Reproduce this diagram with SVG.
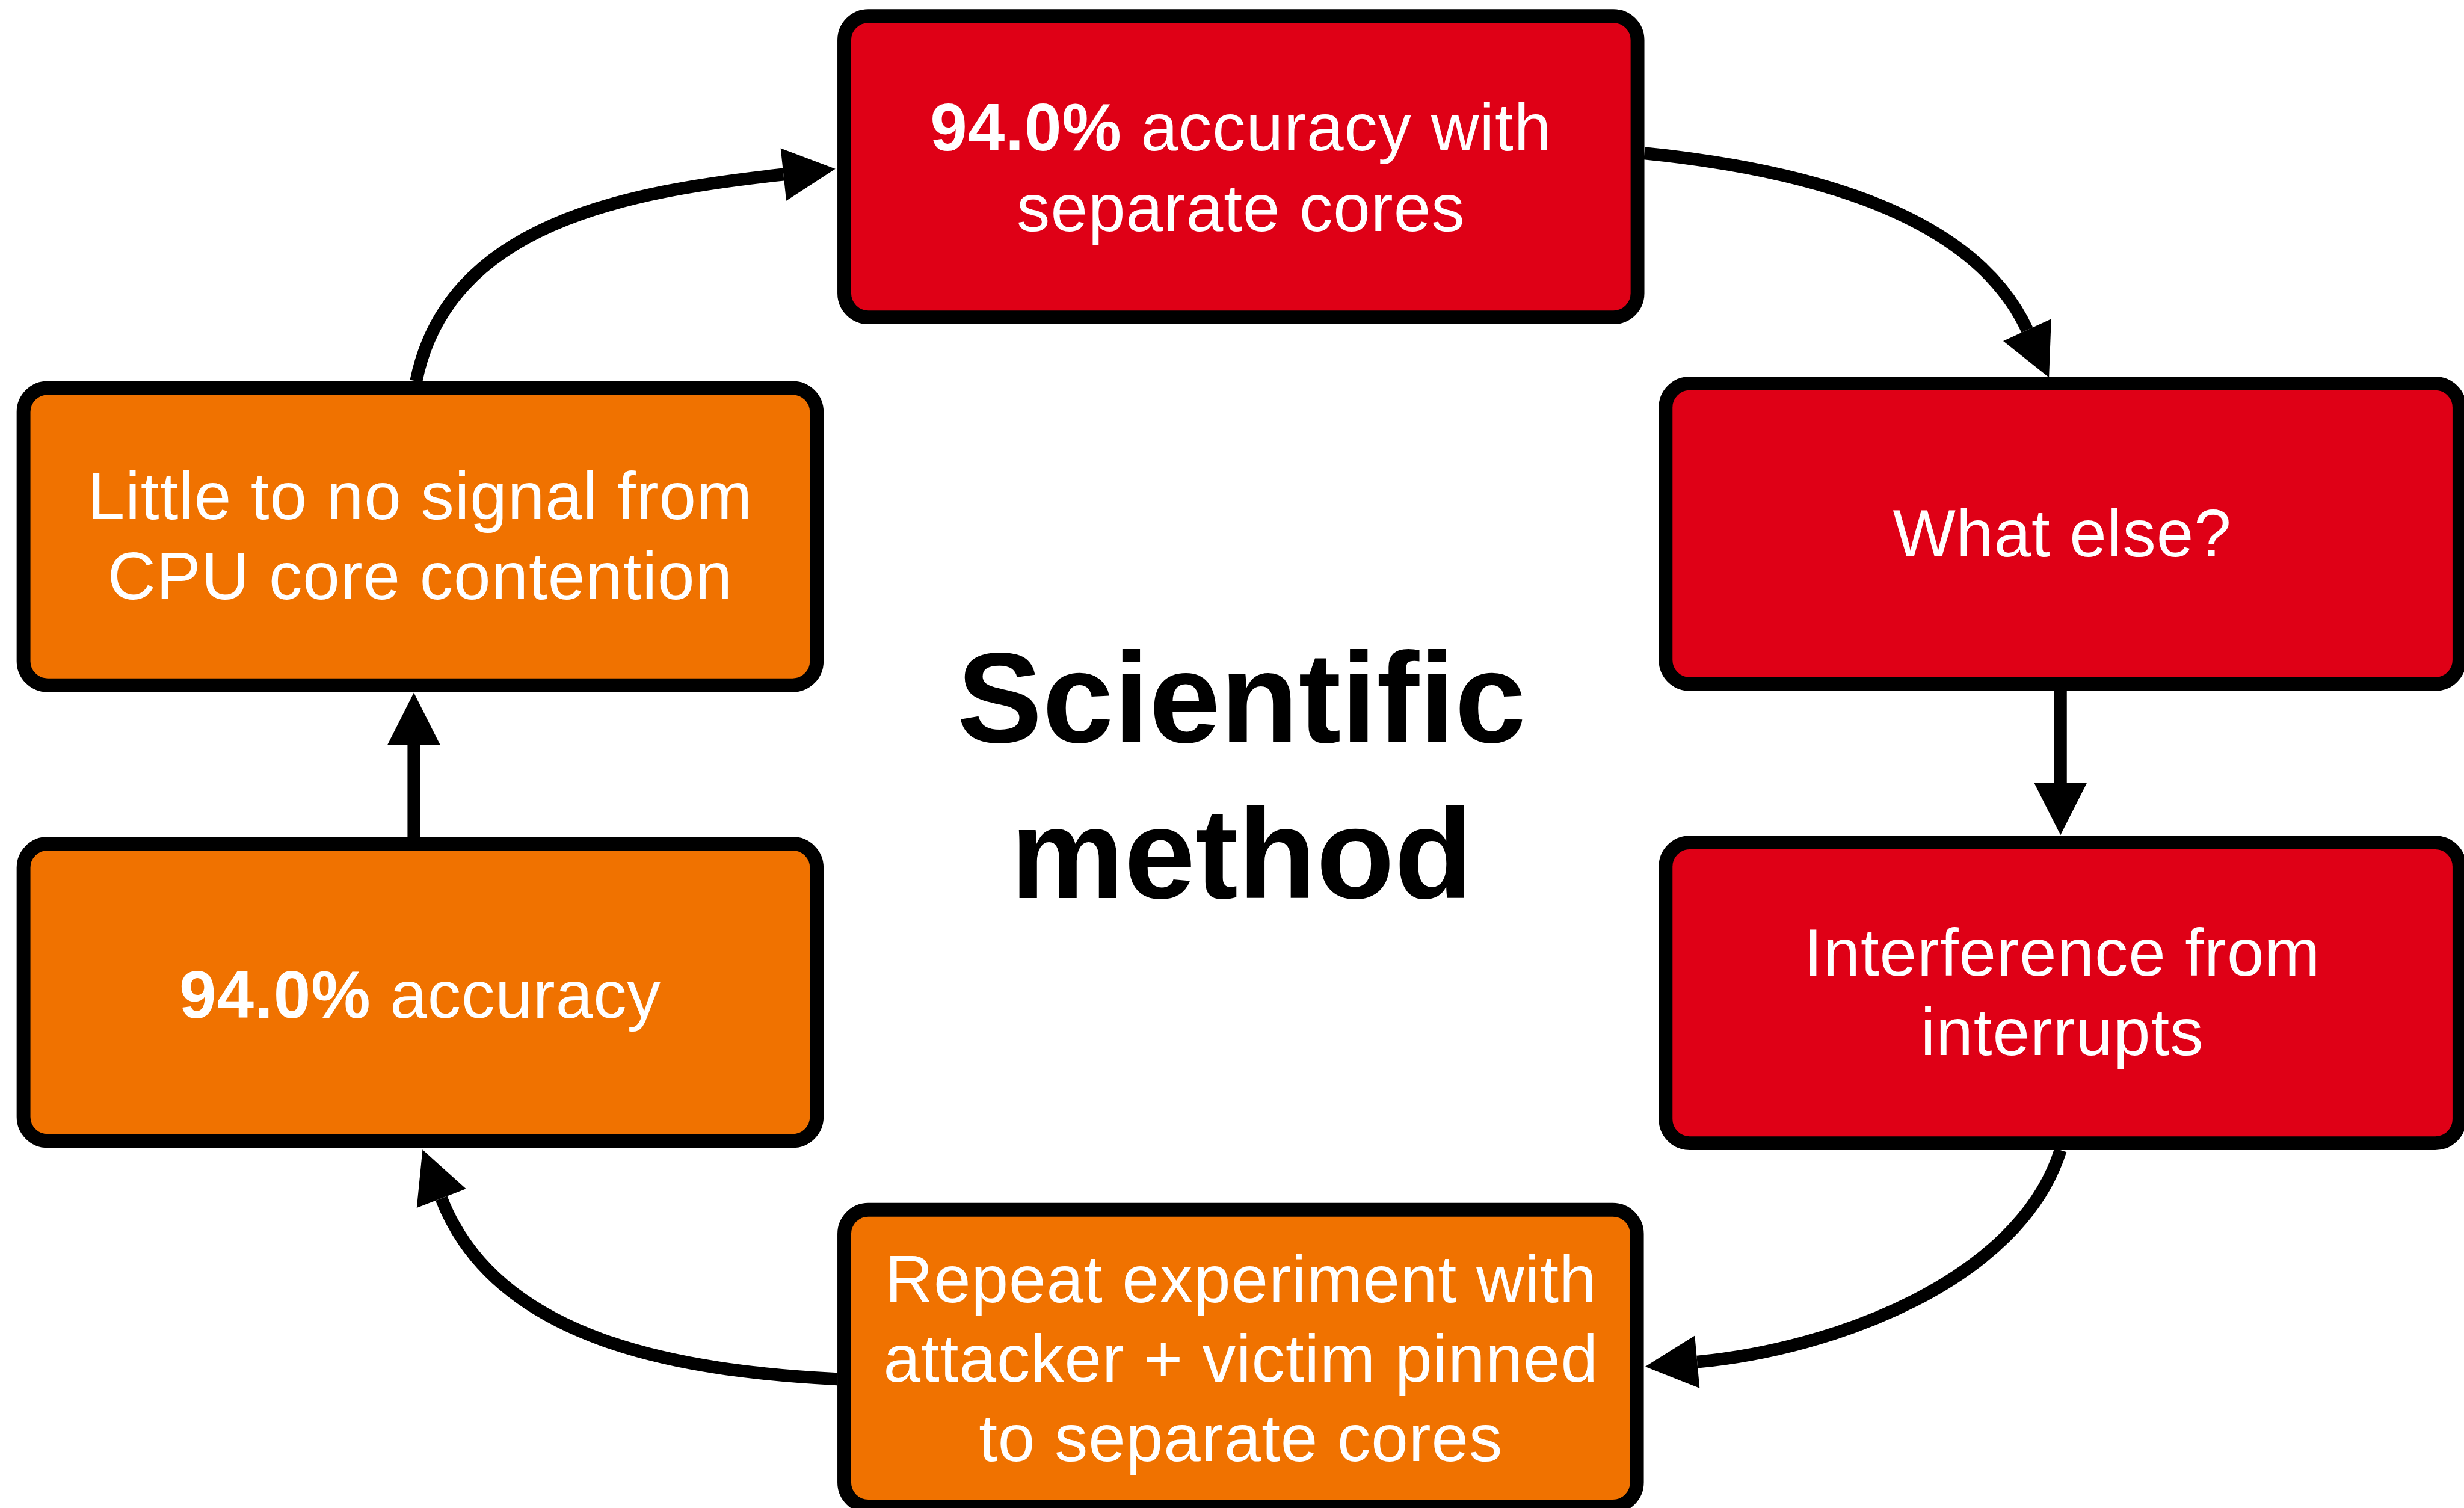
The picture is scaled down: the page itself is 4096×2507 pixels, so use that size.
<svg xmlns="http://www.w3.org/2000/svg" width="4096" height="2507" viewBox="0 0 4096 2507">
  <defs>
    <style>
      .box { stroke: #000; stroke-width: 24; }
      .red { fill: #DF0016; }
      .orange { fill: #F07200; }
      .label { fill: #fff; font-family: "Liberation Sans", Arial, Helvetica, sans-serif; font-size: 116px; letter-spacing: 1px; text-anchor: middle; }
      .label .b { font-weight: bold; }
      .title { fill: #000; font-family: "Liberation Sans", Arial, Helvetica, sans-serif; font-size: 223px; font-weight: bold; text-anchor: middle; }
      .edge { fill: none; stroke: #000; stroke-width: 22; }
    </style>
    <marker id="arrow" markerUnits="userSpaceOnUse" markerWidth="100" markerHeight="100" refX="0" refY="0" orient="auto" overflow="visible">
      <path d="M0,-46 L91,0 L0,46 Z" fill="#000"/>
    </marker>
  </defs>
  <rect width="4096" height="2507" fill="#fff"/>
  <g transform="scale(0.95411)">
    <!-- connectors -->
    <g id="connectors">
      <path class="edge" d="M725,664 C781,390 1087,334 1365,304" marker-end="url(#arrow)"/>
      <path class="edge" d="M2865,267 C3104,291 3432,357 3532,575" marker-end="url(#arrow)"/>
      <path class="edge" d="M3590,1204 L3590,1364" marker-end="url(#arrow)"/>
      <path class="edge" d="M3590,2004 C3518,2232 3196,2351 2957,2373" marker-end="url(#arrow)"/>
      <path class="edge" d="M1459,2403 C1190,2389 866,2339 769,2088" marker-end="url(#arrow)"/>
      <path class="edge" d="M721,1458 L721,1298" marker-end="url(#arrow)"/>
    </g>

    <!-- nodes -->
    <g id="node-separate-cores">
      <rect class="box red" x="1471" y="28" width="1382" height="525" rx="42" ry="42"/>
      <text class="label" x="2162" y="262"><tspan class="b">94.0%</tspan> accuracy with</text>
      <text class="label" x="2162" y="402">separate cores</text>
    </g>
    <g id="node-what-else">
      <rect class="box red" x="2902" y="668" width="1383" height="524" rx="42" ry="42"/>
      <text class="label" x="3593" y="970">What else?</text>
    </g>
    <g id="node-interrupts">
      <rect class="box red" x="2902" y="1468" width="1383" height="524" rx="42" ry="42"/>
      <text class="label" x="3593" y="1700">Interference from</text>
      <text class="label" x="3593" y="1838">interrupts</text>
    </g>
    <g id="node-repeat">
      <rect class="box orange" x="1471" y="2108" width="1381" height="517" rx="42" ry="42"/>
      <text class="label" x="2162" y="2269">Repeat experiment with</text>
      <text class="label" x="2162" y="2407">attacker + victim pinned</text>
      <text class="label" x="2162" y="2546">to separate cores</text>
    </g>
    <g id="node-accuracy">
      <rect class="box orange" x="41" y="1470" width="1382" height="518" rx="42" ry="42"/>
      <text class="label" x="732" y="1773"><tspan class="b">94.0%</tspan> accuracy</text>
    </g>
    <g id="node-little-signal">
      <rect class="box orange" x="41" y="676" width="1382" height="518" rx="42" ry="42"/>
      <text class="label" x="732" y="905">Little to no signal from</text>
      <text class="label" x="732" y="1044">CPU core contention</text>
    </g>

    <g id="title">
      <text class="title" x="2163" y="1293">Scientific</text>
      <text class="title" x="2163" y="1565">method</text>
    </g>
  </g>
</svg>
